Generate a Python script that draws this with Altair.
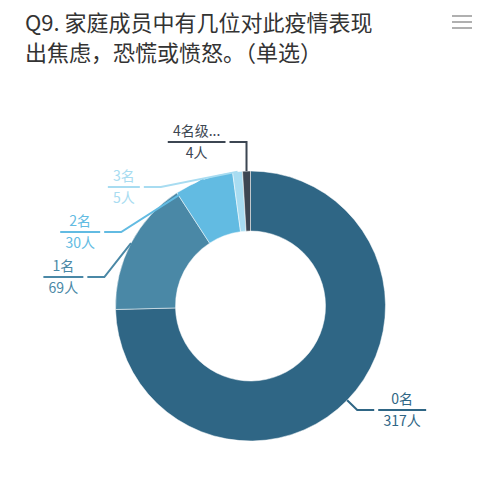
import math

import altair as alt
import pandas as pd

# chart values
title_lines = ["Q9. 家庭成员中有几位对此疫情表现", "出焦虑，恐慌或愤怒。（单选）"]
names = ["0名", "1名", "2名", "3名", "4名级..."]
counts = [317, 69, 30, 5, 4]
count_labels = ["317人", "69人", "30人", "5人", "4人"]
colors = ["#2f6685", "#4a88a6", "#62bbe2", "#a8dcf1", "#3c4652"]

W, H = 485, 484          # view size, page coords run 8..493 / 8..492
CX, CY = 250.5, 306      # pie centre (page coords)
R_OUT, R_IN = 135, 75
DIST = 14                # label distance from the pie
PLOT_TOP = 120
SPACING = 45
FONT = "Noto Sans CJK SC"


def text_w(s, size=14):
    w = 0
    for ch in s:
        if ord(ch) > 0x2E80:
            w += size
        elif ch == ".":
            w += size * 0.28
        else:
            w += size * 0.57
    return w


# slice mid angles, clockwise from the top
total = sum(counts)
mids, acc = [], 0
for c in counts:
    mids.append((acc + c / 2) / total * 2 * math.pi)
    acc += c

# natural label heights, then spread the crowded left side (highcharts-like)
label_y = [CY - (R_OUT + DIST) * math.cos(a) for a in mids]
left = sorted([i for i, a in enumerate(mids) if math.sin(a) < 0], key=lambda i: label_y[i])
if left:
    mean_y = sum(label_y[i] for i in left) / len(left)
    y0 = max(PLOT_TOP + 22, mean_y - (len(left) - 1) * SPACING / 2)
    for k, i in enumerate(left):
        label_y[i] = y0 + k * SPACING

lines, rules, texts = [], [], []
for i, a in enumerate(mids):
    side = 1 if math.sin(a) > 0 else -1
    ex = CX + R_OUT * math.sin(a)
    ey = CY - R_OUT * math.cos(a)
    y = label_y[i]
    dx = math.sqrt(max((R_OUT + DIST) ** 2 - (y - CY) ** 2, 0))
    bx = CX + side * dx
    bx = max(bx, ex) if side > 0 else min(bx, ex)
    hx = bx + side * 17
    for k, (px, py) in enumerate([(ex, ey), (bx, y), (hx, y)]):
        lines.append({"name": names[i], "pt": k, "x": px, "y": py})
    ul = max(text_w(names[i]), text_w(count_labels[i])) + 10
    u1 = hx + side * 4
    u2 = u1 + side * ul
    rules.append({"name": names[i], "x": min(u1, u2), "x2": max(u1, u2), "y": y})
    texts.append({"name": names[i], "x": (u1 + u2) / 2, "y": y,
                  "top": names[i], "bottom": count_labels[i]})

pie_df = pd.DataFrame({"name": names, "count": counts, "idx": range(len(names))})
lines_df = pd.DataFrame(lines)
rules_df = pd.DataFrame(rules)
texts_df = pd.DataFrame(texts)
title_df = pd.DataFrame({"line": title_lines, "y": [31, 61]})
menu_df = pd.DataFrame({"y": [16, 22, 28]})

xs = alt.Scale(domain=[8, 8 + W], nice=False, zero=False)
ys = alt.Scale(domain=[8, 8 + H], nice=False, zero=False, reverse=True)
color = alt.Color("name:N", scale=alt.Scale(domain=names, range=colors), legend=None)

pie = alt.Chart(pie_df).mark_arc(
    innerRadius=R_IN, outerRadius=R_OUT, stroke="white", strokeWidth=0.5
).encode(
    theta=alt.Theta("count:Q", stack=True),
    order=alt.Order("idx:Q"),
    color=color,
    x=alt.value(CX - 8),
    y=alt.value(CY - 8),
)

connectors = alt.Chart(lines_df).mark_line(strokeWidth=2).encode(
    x=alt.X("x:Q", scale=xs, axis=None),
    y=alt.Y("y:Q", scale=ys, axis=None),
    detail="name:N",
    order="pt:Q",
    color=color,
)

underlines = alt.Chart(rules_df).mark_rule(strokeWidth=2).encode(
    x=alt.X("x:Q", scale=xs, axis=None),
    x2="x2:Q",
    y=alt.Y("y:Q", scale=ys, axis=None),
    color=color,
)

name_text = alt.Chart(texts_df).mark_text(
    font=FONT, fontSize=14, baseline="bottom", dy=-3
).encode(
    x=alt.X("x:Q", scale=xs, axis=None),
    y=alt.Y("y:Q", scale=ys, axis=None),
    text="top:N",
    color=color,
)

count_text = alt.Chart(texts_df).mark_text(
    font=FONT, fontSize=14, baseline="top", dy=5
).encode(
    x=alt.X("x:Q", scale=xs, axis=None),
    y=alt.Y("y:Q", scale=ys, axis=None),
    text="bottom:N",
    color=color,
)

title = alt.Chart(title_df).mark_text(
    font=FONT, fontSize=22, align="left", baseline="alphabetic", color="#333333",
).encode(
    x=alt.value(17),
    y=alt.Y("y:Q", scale=ys, axis=None),
    text="line:N",
)

menu = alt.Chart(menu_df).mark_rule(color="#b0b0b0", strokeWidth=2).encode(
    x=alt.value(444),
    x2=alt.value(464),
    y=alt.Y("y:Q", scale=ys, axis=None),
)

chart = alt.layer(
    pie, connectors, underlines, name_text, count_text, title, menu
).properties(
    width=W, height=H, autosize="none", padding=0, background="white"
).configure_view(strokeWidth=0)

chart.save("out.html", embed_options={"renderer": "svg", "actions": False})
